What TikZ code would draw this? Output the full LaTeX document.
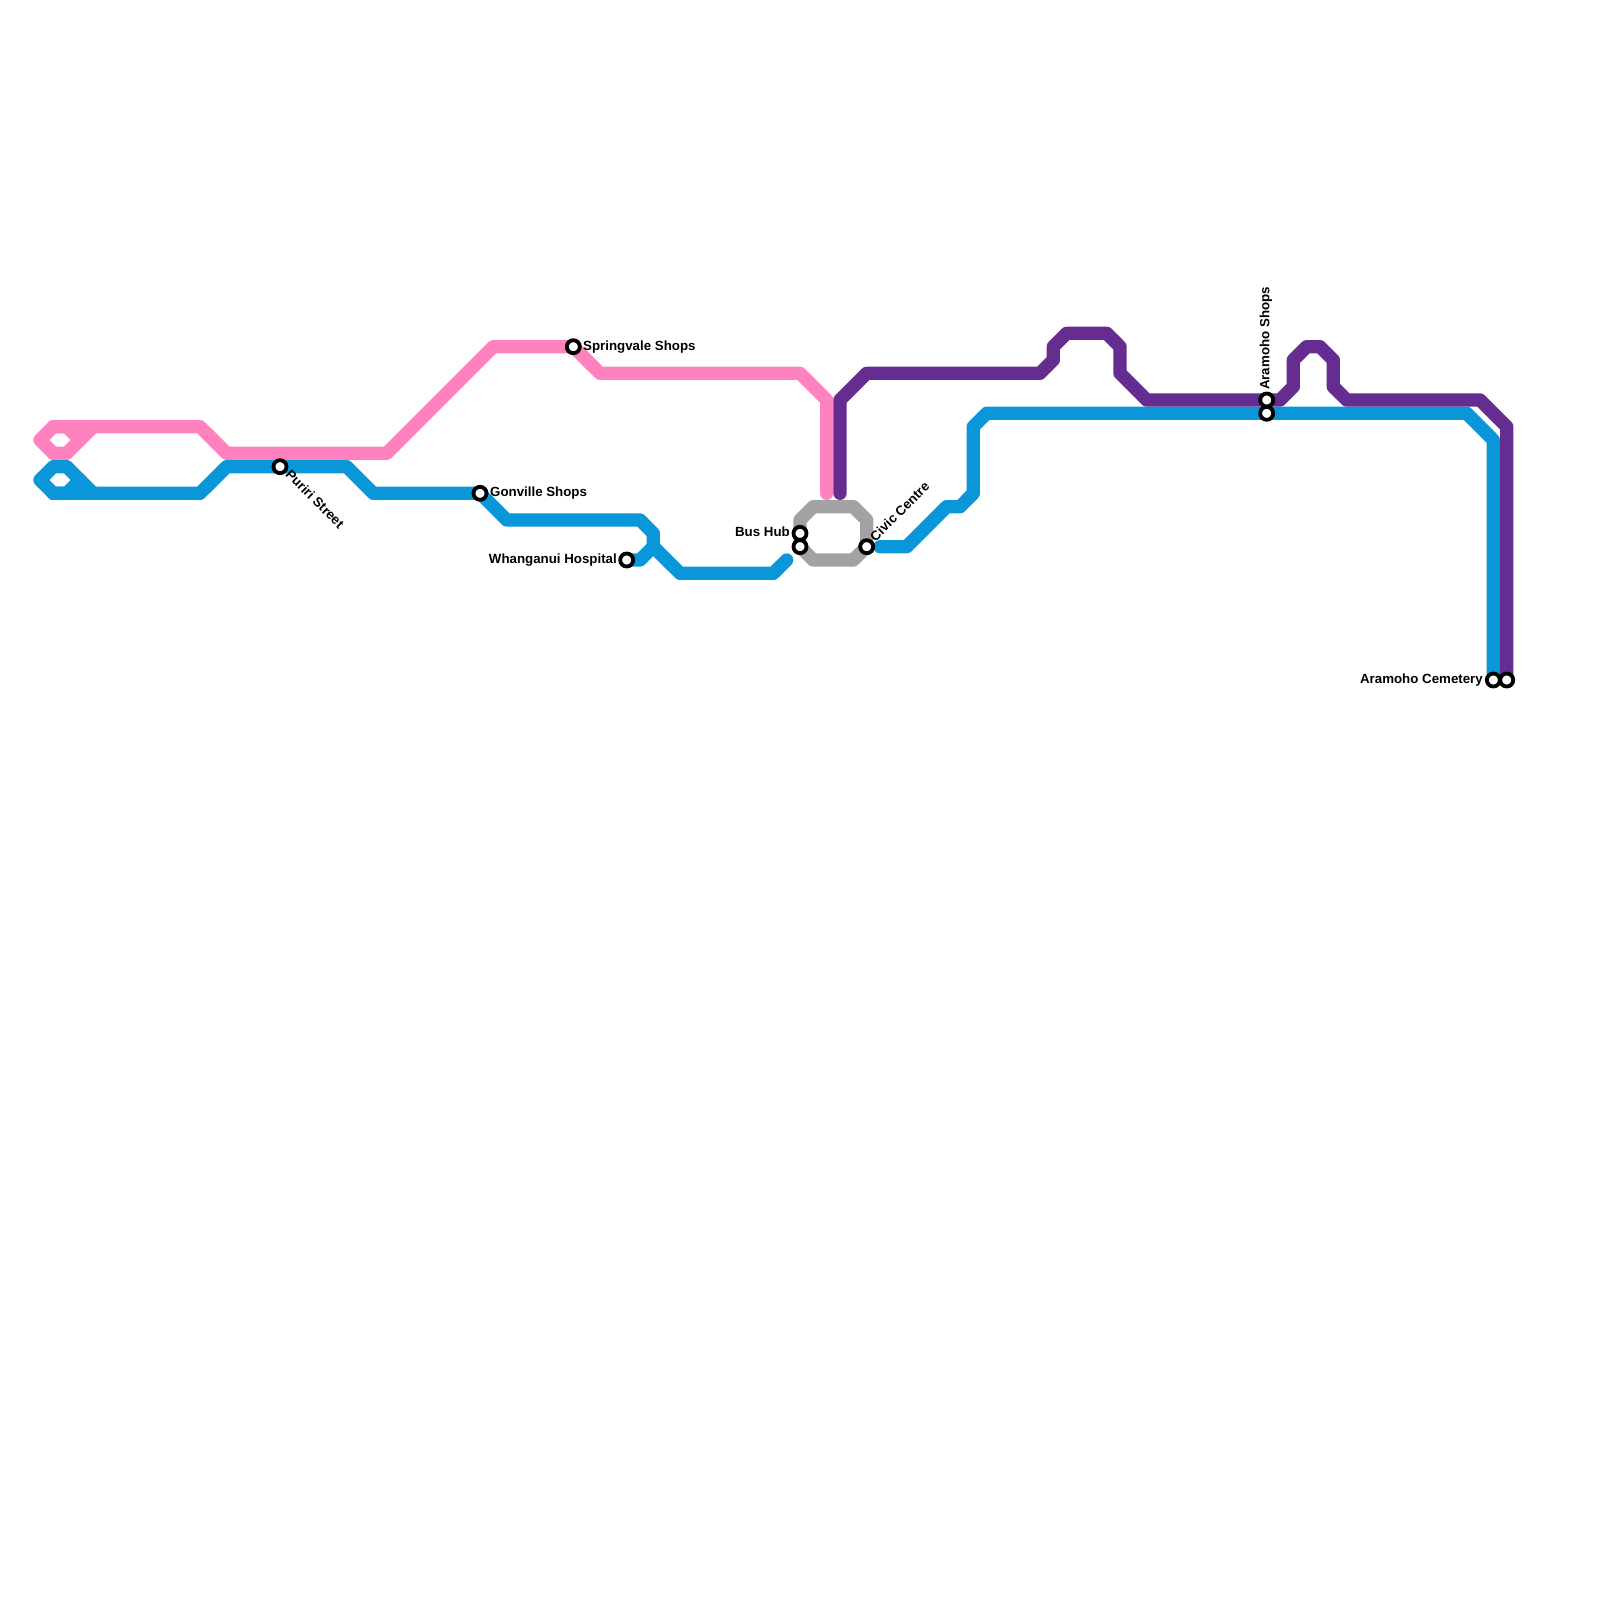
\documentclass[tikz,border=0pt]{standalone}
\usepackage{fontspec}
\setmainfont{Liberation Sans}
\tikzset{
  route/.style={line width=13.33pt,line cap=round,line join=round},
  pinkroute/.style={route,draw=routepink},
  blueroute/.style={route,draw=routeblue},
  purpleroute/.style={route,draw=routepurple},
  greyroute/.style={route,draw=routegrey},
  stop/.style={circle,draw=black,fill=white,line width=3.8pt,minimum size=13pt,inner sep=0pt},
  stoplabel/.style={font=\bfseries\fontsize{13.3pt}{15pt}\selectfont,inner sep=0pt,text=black}
}
\definecolor{routepink}{HTML}{FF82C0}
\definecolor{routeblue}{HTML}{0A97D9}
\definecolor{routepurple}{HTML}{662D91}
\definecolor{routegrey}{HTML}{A2A2A2}
\begin{document}
\begin{tikzpicture}[x=1pt,y=-1pt]
\useasboundingbox[fill=white] (0,0) rectangle (1600,1600);
% station positions
\coordinate (puriri) at (280,466.7);
\coordinate (gonville) at (480,493.3);
\coordinate (springvale) at (573.3,346.7);
\coordinate (hospital) at (626.7,560);
\coordinate (bushubA) at (800,533.3);
\coordinate (bushubB) at (800,546.7);
\coordinate (civic) at (866.7,546.7);
\coordinate (shopsA) at (1266.7,400);
\coordinate (shopsB) at (1266.7,413.3);
\coordinate (cemA) at (1493.3,680);
\coordinate (cemB) at (1506.7,680);
% grey
\draw[greyroute] (813.3,506.7) -- (853.3,506.7) -- (866.7,520) -- (civic) -- (853.3,560) -- (813.3,560) -- (bushubB) -- (bushubA) -- (800,520) -- cycle;
% blue
\draw[blueroute] (53.3,493.3) -- (40,480) -- (53.3,466.7) -- (66.7,466.7) -- (93.3,493.3);
\draw[blueroute] (53.3,493.3) -- (66.7,493.3) -- (80,480);
\draw[blueroute] (53.3,493.3) -- (200,493.3) -- (226.7,466.7) -- (puriri) -- (346.7,466.7) -- (373.3,493.3) -- (gonville) -- (506.7,520) -- (640,520) -- (653.3,533.3) -- (653.3,546.7) -- (640,560) -- (hospital);
\draw[blueroute] (653.3,546.7) -- (680,573.3) -- (773.3,573.3) -- (786.7,560);
\draw[blueroute] (880,546.7) -- (906.7,546.7) -- (946.7,506.7) -- (960,506.7) -- (973.3,493.3) -- (973.3,426.7) -- (986.7,413.3) -- (shopsB) -- (1466.7,413.3) -- (1493.3,440) -- (cemA);
% pink
\draw[pinkroute] (53.3,453.3) -- (40,440) -- (53.3,426.7) -- (66.7,426.7) -- (80,440);
\draw[pinkroute] (53.3,453.3) -- (66.7,453.3) -- (93.3,426.7);
\draw[pinkroute] (53.3,426.7) -- (200,426.7) -- (226.7,453.3) -- (386.7,453.3) -- (493.3,346.7) -- (springvale) -- (600,373.3) -- (800,373.3) -- (826.7,400) -- (826.7,493.3);
% purple
\draw[purpleroute] (840,493.3) -- (840,400) -- (866.7,373.3) -- (1040,373.3) -- (1053.3,360) -- (1053.3,346.7) -- (1066.7,333.3) -- (1106.7,333.3) -- (1120,346.7) -- (1120,373.3) -- (1146.7,400) -- (shopsA) -- (1280,400) -- (1293.3,386.7) -- (1293.3,360) -- (1306.7,346.7) -- (1320,346.7) -- (1333.3,360) -- (1333.3,386.7) -- (1346.7,400) -- (1480,400) -- (1506.7,426.7) -- (cemB);
% stations
\node[stop] (nPuriri) at (puriri) {};
\node[stop] (nGonville) at (gonville) {};
\node[stop] (nSpringvale) at (springvale) {};
\node[stop] (nHospital) at (hospital) {};
\node[stop] (nBusA) at (bushubA) {};
\node[stop] (nBusB) at (bushubB) {};
\node[stop] (nCivic) at (civic) {};
\node[stop] (nShopsA) at (shopsA) {};
\node[stop] (nShopsB) at (shopsB) {};
\node[stop] (nCemA) at (cemA) {};
\node[stop] (nCemB) at (cemB) {};
% labels
\node[stoplabel,anchor=west,rotate=-45] (lPuriri) at (288,472) {Puriri Street};
\node[stoplabel,anchor=west] (lGonville) at (490,493.3) {Gonville Shops};
\node[stoplabel,anchor=west] (lSpringvale) at (583,347.3) {Springvale Shops};
\node[stoplabel,anchor=east] (lHospital) at (617,560.3) {Whanganui Hospital};
\node[stoplabel,anchor=east] (lBus) at (790,532) {Bus Hub};
\node[stoplabel,anchor=west,rotate=45] (lCivic) at (872,539) {Civic Centre};
\node[stoplabel,anchor=west,rotate=90] (lShops) at (1266,390) {Aramoho Shops};
\node[stoplabel,anchor=east] (lCem) at (1483,680.3) {Aramoho Cemetery};
\end{tikzpicture}
\end{document}
